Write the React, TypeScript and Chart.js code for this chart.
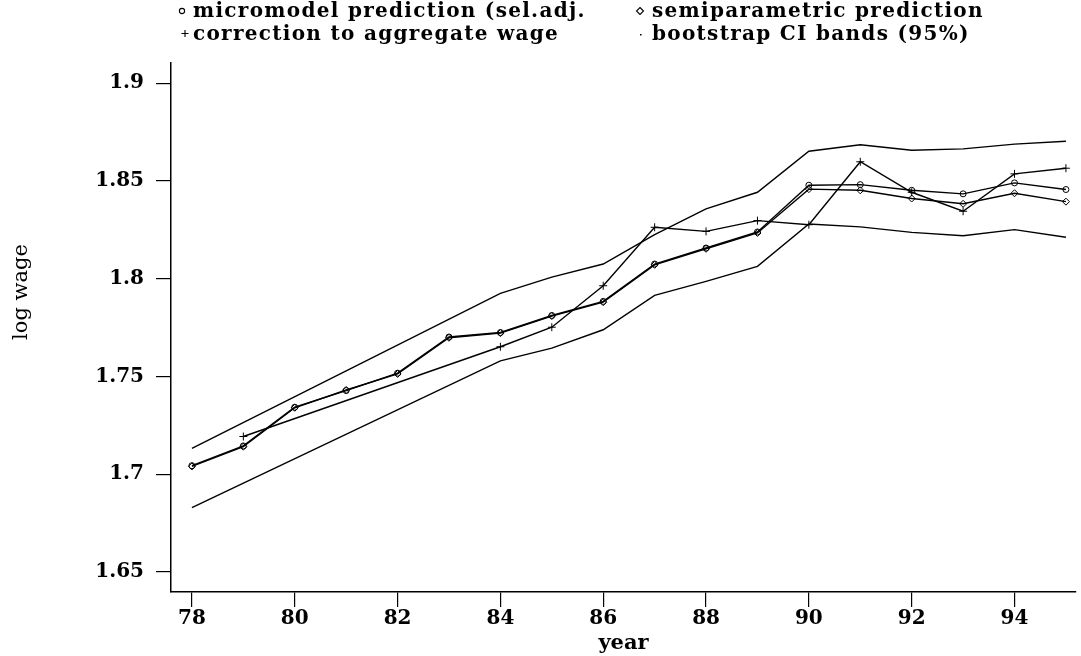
import React, { useEffect, useRef } from "react";
import { Chart, registerables } from "chart.js";

Chart.register(...registerables);

// ---- data ----
const years = [78, 79, 80, 81, 82, 83, 84, 85, 86, 87, 88, 89, 90, 91, 92, 93, 94, 95];
const micromodel = [1.7044, 1.7145, 1.7343, 1.7428, 1.7517, 1.7702, 1.7725, 1.7812, 1.7884, 1.8075, 1.8157, 1.8239, 1.8478, 1.8481, 1.8452, 1.8434, 1.849, 1.8456];
const semiparametric = [1.704, 1.7141, 1.734, 1.7431, 1.7513, 1.7698, 1.7722, 1.7809, 1.788, 1.8071, 1.8153, 1.8234, 1.8458, 1.8452, 1.841, 1.8383, 1.8437, 1.8394];
const correctionYears = [79, 84, 85, 86, 87, 88, 89, 90, 91, 92, 93, 94, 95];
const correction = [1.7193, 1.7652, 1.7752, 1.7964, 1.8263, 1.8242, 1.8297, 1.8276, 1.8598, 1.8442, 1.8345, 1.8536, 1.8565];
const bandYears = [78, 84, 85, 86, 87, 88, 89, 90, 91, 92, 93, 94, 95];
const upperBand = [1.7133, 1.7925, 1.8008, 1.8075, 1.8225, 1.8357, 1.8442, 1.8652, 1.8685, 1.8657, 1.8664, 1.8688, 1.8703];
const lowerBand = [1.683, 1.758, 1.7645, 1.7739, 1.7915, 1.7986, 1.8063, 1.828, 1.8265, 1.8237, 1.822, 1.8251, 1.8212];

const xTicks = [78, 80, 82, 84, 86, 88, 90, 92, 94];
const yTicks = [1.65, 1.7, 1.75, 1.8, 1.85, 1.9];
const seriesLabels = [
  "micromodel prediction (sel.adj.",
  "semiparametric prediction",
  "correction to aggregate wage",
  "bootstrap CI bands (95%)",
];
const xTitle = "year";
const yTitle = "log wage";

const FONT = '"DejaVu Serif", "Liberation Serif", serif';

export default function App() {
  const ref = useRef<HTMLCanvasElement>(null);

  useEffect(() => {
    if (!ref.current) return;
    const toPts = (xs: number[], ys: number[]) => xs.map((x, i) => ({ x, y: ys[i] }));

    const paperLegend = {
      id: "paperLegend",
      afterDraw(chart: any) {
        const ctx = chart.ctx as any;
        ctx.save();
        ctx.fillStyle = "#000";
        ctx.strokeStyle = "#000";
        ctx.lineWidth = 1.1;
        ctx.font = `bold 20px ${FONT}`;
        ctx.textAlign = "left";
        ctx.textBaseline = "alphabetic";
        try {
          ctx.letterSpacing = "1.3px";
        } catch (e) {}
        // row 1
        ctx.beginPath();
        ctx.arc(182, 11, 2.6, 0, Math.PI * 2);
        ctx.stroke();
        ctx.fillText(seriesLabels[0], 193, 17);
        ctx.beginPath();
        ctx.moveTo(640, 7.5);
        ctx.lineTo(643.5, 11);
        ctx.lineTo(640, 14.5);
        ctx.lineTo(636.5, 11);
        ctx.closePath();
        ctx.stroke();
        ctx.fillText(seriesLabels[1], 652, 17);
        // row 2
        ctx.beginPath();
        ctx.moveTo(181.5, 33.5);
        ctx.lineTo(188.5, 33.5);
        ctx.moveTo(185, 30);
        ctx.lineTo(185, 37);
        ctx.stroke();
        ctx.fillText(seriesLabels[2], 193, 39.5);
        ctx.fillRect(640, 34, 1.5, 1.5);
        ctx.fillText(seriesLabels[3], 652, 39.5);
        // y title
        try {
          ctx.letterSpacing = "0px";
        } catch (e) {}
        ctx.translate(22, 292);
        ctx.rotate(-Math.PI / 2);
        ctx.font = `21px ${FONT}`;
        ctx.textAlign = "center";
        ctx.textBaseline = "middle";
        ctx.fillText(yTitle, 0, 0);
        ctx.restore();
      },
    };

    const lineBase = {
      borderColor: "#000",
      borderWidth: 1.4,
      tension: 0,
      fill: false,
      pointBorderColor: "#000",
      pointBackgroundColor: "rgba(0,0,0,0)",
      pointBorderWidth: 1,
    };

    const tickFont = { family: FONT, size: 20, weight: "bold" as const };
    const titleFont = { family: FONT, size: 21, weight: "bold" as const };

    const chart = new Chart(ref.current, {
      type: "line",
      data: {
        datasets: [
          { ...lineBase, label: seriesLabels[3], data: toPts(bandYears, upperBand), pointRadius: 0 },
          { ...lineBase, label: seriesLabels[3] + " (lower)", data: toPts(bandYears, lowerBand), pointRadius: 0 },
          { ...lineBase, label: seriesLabels[0], data: toPts(years, micromodel), pointStyle: "circle", pointRadius: 3 },
          { ...lineBase, label: seriesLabels[1], data: toPts(years, semiparametric), pointStyle: "rectRot", pointRadius: 3.5 },
          { ...lineBase, label: seriesLabels[2], data: toPts(correctionYears, correction), pointStyle: "cross", pointRadius: 4 },
        ],
      },
      options: {
        responsive: false,
        animation: false,
        devicePixelRatio: 1,
        layout: { padding: { top: 63, right: 0, bottom: 0, left: 0 } },
        plugins: {
          legend: { display: false },
          tooltip: { enabled: false },
        },
        scales: {
          x: {
            type: "linear",
            min: 77.593,
            max: 95.196,
            afterBuildTicks: (s: any) => {
              s.ticks = xTicks.map((v) => ({ value: v }));
            },
            afterFit: (s: any) => {
              s.height = 64;
            },
            ticks: {
              callback: (v: any) => String(v),
              font: tickFont,
              color: "#000",
              padding: 0,
              maxRotation: 0,
              autoSkip: false,
            },
            grid: { drawOnChartArea: false, drawTicks: true, tickLength: 15, color: "#000", lineWidth: 1.2 },
            border: { display: true, color: "#000", width: 1.5 },
            title: { display: true, text: xTitle, font: titleFont, color: "#000", padding: { top: 0, bottom: 0 } },
          },
          y: {
            type: "linear",
            min: 1.6398,
            max: 1.9103,
            afterBuildTicks: (s: any) => {
              s.ticks = yTicks.map((v) => ({ value: v }));
            },
            afterFit: (s: any) => {
              s.width = 171;
            },
            ticks: {
              callback: (v: any) => String(v),
              font: tickFont,
              color: "#000",
              padding: 12,
              autoSkip: false,
            },
            grid: { drawOnChartArea: false, drawTicks: true, tickLength: 15, color: "#000", lineWidth: 1.2 },
            border: { display: true, color: "#000", width: 1.5 },
          },
        },
      },
      plugins: [paperLegend],
    });

    return () => chart.destroy();
  }, []);

  return (
    <div style={{ position: "fixed", left: 0, top: 0, width: 1081, height: 656, background: "#fff" }}>
      <canvas ref={ref} width={1081} height={656} />
    </div>
  );
}
